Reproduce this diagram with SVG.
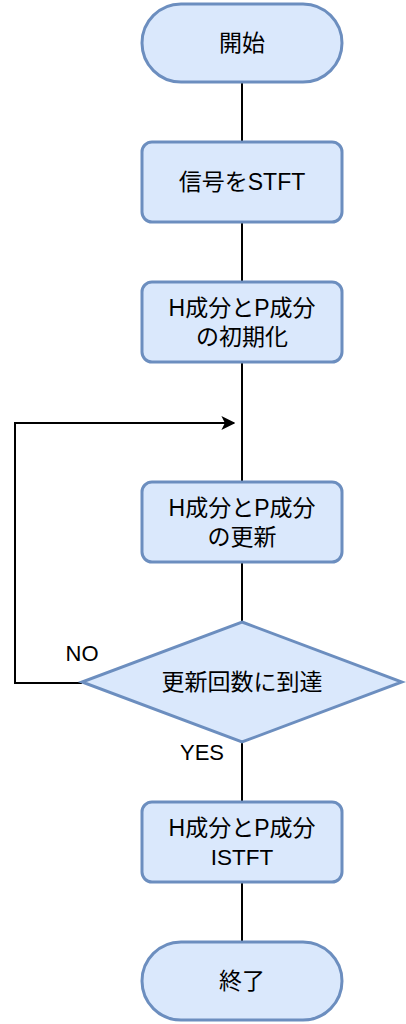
<svg xmlns="http://www.w3.org/2000/svg" width="406" height="1024" viewBox="0 0 406 1024">
<style>
.n{fill:#dae8fc;stroke:#6c8ebf;stroke-width:3}
.t{font-family:"Liberation Sans","Noto Sans CJK JP",sans-serif;font-size:22.5px;fill:#000;text-anchor:middle;dominant-baseline:central}
.j{font-size:23px}
.l{font-family:"Liberation Sans","Noto Sans CJK JP",sans-serif;font-size:22px;fill:#000;text-anchor:middle;dominant-baseline:central}
.c{fill:none;stroke:#000;stroke-width:2}
</style>
<defs>
<marker id="ah" viewBox="0 0 10 10" refX="9" refY="5" markerWidth="14" markerHeight="14" markerUnits="userSpaceOnUse" orient="auto">
<path d="M0,0 L10,5 L0,10 L2.5,5 Z" fill="#000"/>
</marker>
</defs>
<rect width="406" height="1024" fill="#fff"/>
<g id="connectors">
<path class="c" d="M242,82 V142"/>
<path class="c" d="M242,222 V282"/>
<path class="c" d="M242,362 V482"/>
<path class="c" d="M242,562 V622"/>
<path class="c" d="M242,742 V802"/>
<path class="c" d="M242,882 V942"/>
<path class="c" d="M82,683 H15 V423 H234" marker-end="url(#ah)"/>
<text class="l" x="82" y="653">NO</text>
<text class="l" x="202" y="752">YES</text>
</g>
<g id="start">
<rect class="n" x="142" y="4" width="200" height="78" rx="39" ry="39"/>
<text class="t j" x="242" y="43">開始</text>
</g>
<g id="stft">
<rect class="n" x="142" y="142" width="200" height="80" rx="10"/>
<text class="t j" x="242" y="182">信号をSTFT</text>
</g>
<g id="init">
<rect class="n" x="142" y="282" width="200" height="80" rx="10"/>
<text class="t j" x="242" y="308">H成分とP成分</text>
<text class="t j" x="242" y="337">の初期化</text>
</g>
<g id="update">
<rect class="n" x="142" y="482" width="200" height="80" rx="10"/>
<text class="t j" x="242" y="508">H成分とP成分</text>
<text class="t j" x="242" y="537">の更新</text>
</g>
<g id="decision">
<path class="n" d="M242,622 L402,682 L242,742 L82,682 Z"/>
<text class="t j" x="242" y="682">更新回数に到達</text>
</g>
<g id="istft">
<rect class="n" x="142" y="802" width="200" height="80" rx="10"/>
<text class="t j" x="242" y="828">H成分とP成分</text>
<text class="t" x="242" y="857">ISTFT</text>
</g>
<g id="end">
<rect class="n" x="142" y="942" width="200" height="78" rx="39" ry="39"/>
<text class="t j" x="242" y="981">終了</text>
</g>
</svg>
